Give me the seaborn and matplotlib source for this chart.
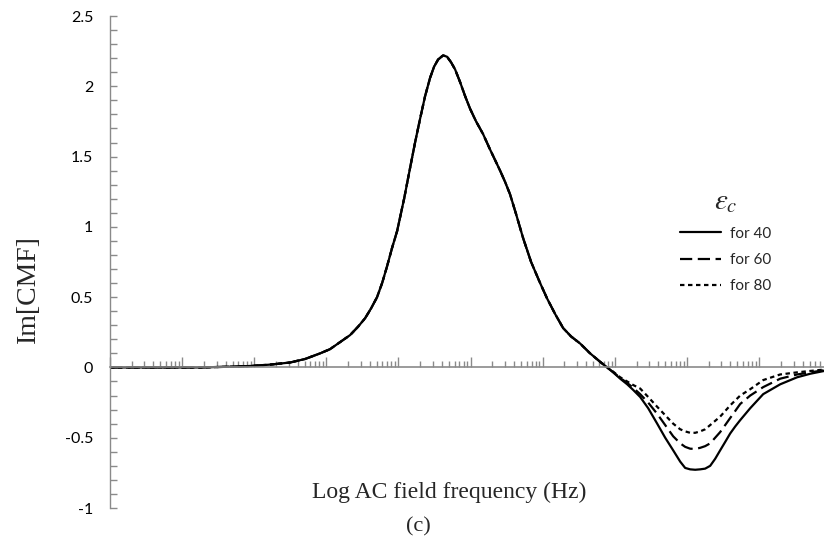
import numpy as np
import pandas as pd
import matplotlib
matplotlib.use("Agg")
import matplotlib.pyplot as plt
from matplotlib.lines import Line2D
from matplotlib.ticker import LogLocator, MultipleLocator, NullFormatter
import seaborn as sns

# log10 of the field frequency (Hz) for the part shared by all curves
head_log_f = [0.000, 0.693, 1.248, 1.664, 1.942, 2.219, 2.497, 2.705, 2.913, 3.051,
              3.190, 3.329, 3.440, 3.537, 3.620, 3.703, 3.773, 3.842, 3.911, 3.981,
              4.078, 4.161, 4.230, 4.300, 4.369, 4.438, 4.494, 4.549, 4.619, 4.674,
              4.730, 4.785, 4.854, 4.924, 4.993, 5.076, 5.173, 5.270, 5.409, 5.478,
              5.548, 5.631, 5.728, 5.839, 5.964, 6.061, 6.172, 6.283, 6.394, 6.519,
              6.657, 6.796]
head_im = [0.0, 0.0, 0.0, 0.005, 0.01, 0.02, 0.035, 0.06, 0.10, 0.13,
           0.18, 0.23, 0.29, 0.35, 0.42, 0.50, 0.60, 0.72, 0.85, 0.97,
           1.20, 1.42, 1.60, 1.77, 1.93, 2.06, 2.14, 2.19, 2.22, 2.21,
           2.17, 2.12, 2.03, 1.93, 1.84, 1.75, 1.66, 1.55, 1.40, 1.32,
           1.23, 1.09, 0.92, 0.75, 0.60, 0.49, 0.38, 0.28, 0.22, 0.17,
           0.10, 0.04]

# high-frequency part, where the three permittivities separate
tail_log_f = [6.893, 6.976, 7.074, 7.171, 7.254, 7.351, 7.462, 7.587, 7.698, 7.809,
              7.906, 7.975, 8.044, 8.114, 8.183, 8.252, 8.322, 8.391, 8.460, 8.530,
              8.599, 8.669, 8.738, 8.877, 9.057, 9.293, 9.528, 9.709, 9.903]
tail_im_40 = [0.0, -0.035, -0.08, -0.12, -0.16, -0.21, -0.29, -0.40, -0.50, -0.59,
              -0.67, -0.715, -0.725, -0.728, -0.725, -0.72, -0.70, -0.65, -0.59, -0.53,
              -0.47, -0.42, -0.375, -0.29, -0.19, -0.12, -0.07, -0.045, -0.025]
tail_im_60 = [0.0, -0.033, -0.075, -0.11, -0.145, -0.19, -0.25, -0.33, -0.41, -0.49,
              -0.54, -0.565, -0.578, -0.58, -0.572, -0.56, -0.54, -0.50, -0.46, -0.41,
              -0.36, -0.31, -0.26, -0.20, -0.14, -0.08, -0.05, -0.035, -0.02]
tail_im_80 = [0.0, -0.03, -0.07, -0.10, -0.125, -0.15, -0.21, -0.28, -0.34, -0.40,
              -0.44, -0.455, -0.465, -0.465, -0.455, -0.44, -0.41, -0.38, -0.35, -0.31,
              -0.27, -0.235, -0.20, -0.155, -0.09, -0.05, -0.035, -0.025, -0.015]

series_labels = ["for 40", "for 60", "for 80"]
y_ticks = [-1, -0.5, 0, 0.5, 1, 1.5, 2, 2.5]

frames = []
for label, tail in zip(series_labels, [tail_im_40, tail_im_60, tail_im_80]):
    log_f = np.array(head_log_f + tail_log_f)
    frames.append(pd.DataFrame({"freq": 10.0 ** log_f,
                                "im": head_im + tail,
                                "series": label}))
df = pd.concat(frames[::-1], ignore_index=True)

sns.set_theme(style="white")
plt.rcParams["font.family"] = ["Lato", "DejaVu Sans"]
plt.rcParams["mathtext.fontset"] = "stix"

fig = plt.figure(figsize=(8.24, 5.58), dpi=100)
ax = fig.add_axes([110 / 824, 1 - 508 / 558, 714 / 824, 492 / 558])

line_w = 1.6
dash_map = {"for 40": "", "for 60": (5.5, 2.5), "for 80": (2.0, 1.6)}
sns.lineplot(data=df, x="freq", y="im", style="series", dashes=dash_map,
             style_order=series_labels[::-1], color="black", linewidth=line_w,
             legend=False, ax=ax, sort=True, estimator=None)
ax.set_xlabel("")
ax.set_ylabel("")

ax.set_xscale("log")
ax.set_xlim(1, 10 ** 9.9)
ax.set_ylim(-1, 2.5)

axis_grey = "#8a8a8a"
for side in ["top", "right"]:
    ax.spines[side].set_visible(False)
ax.spines["left"].set_color(axis_grey)
ax.spines["left"].set_linewidth(1.0)
ax.spines["bottom"].set_position(("data", 0))
ax.spines["bottom"].set_color(axis_grey)
ax.spines["bottom"].set_linewidth(1.2)

ax.set_yticks(y_ticks)
ax.set_yticklabels([f"{v:g}" for v in y_ticks])
ax.yaxis.set_minor_locator(MultipleLocator(0.1))
ax.tick_params(axis="y", which="both", direction="in", length=5,
               color=axis_grey, width=1.0, labelsize=11.5, pad=12,
               left=True, labelcolor="black")

ax.xaxis.set_major_locator(LogLocator(base=10, numticks=20))
ax.xaxis.set_minor_locator(LogLocator(base=10, subs=np.arange(2, 10), numticks=200))
ax.xaxis.set_major_formatter(NullFormatter())
ax.xaxis.set_minor_formatter(NullFormatter())
ax.tick_params(axis="x", which="major", direction="in", length=7,
               color=axis_grey, width=1.0, bottom=True)
ax.tick_params(axis="x", which="minor", direction="in", length=4,
               color=axis_grey, width=1.0, bottom=True)
ax.grid(False)

serif = ["Liberation Serif", "DejaVu Serif"]
fig.text(28 / 824, 1 - 289 / 558, "Im[CMF]", rotation=90, ha="center",
         va="center", fontsize=20, family=serif)
fig.text(449 / 824, 1 - 492 / 558, "Log AC field frequency (Hz)", ha="center",
         va="center", fontsize=17, family=serif)
fig.text(418 / 824, 1 - 527 / 558, "(c)", ha="center", va="center",
         fontsize=16, family=serif)

handles = [Line2D([], [], color="black", linewidth=line_w, linestyle="-"),
           Line2D([], [], color="black", linewidth=line_w, dashes=(5.5, 2.5)),
           Line2D([], [], color="black", linewidth=line_w, dashes=(2.0, 1.6))]
leg = ax.legend(handles, series_labels, title=r"$\varepsilon_c$",
                loc="upper left", bbox_to_anchor=(672 / 824, 1 - 180 / 558),
                bbox_transform=fig.transFigure, frameon=False, fontsize=11,
                handlelength=2.7, handletextpad=0.6, labelspacing=0.8,
                borderpad=0.0)
leg.get_title().set_fontsize(21)

fig.savefig("out.png", dpi=100)
